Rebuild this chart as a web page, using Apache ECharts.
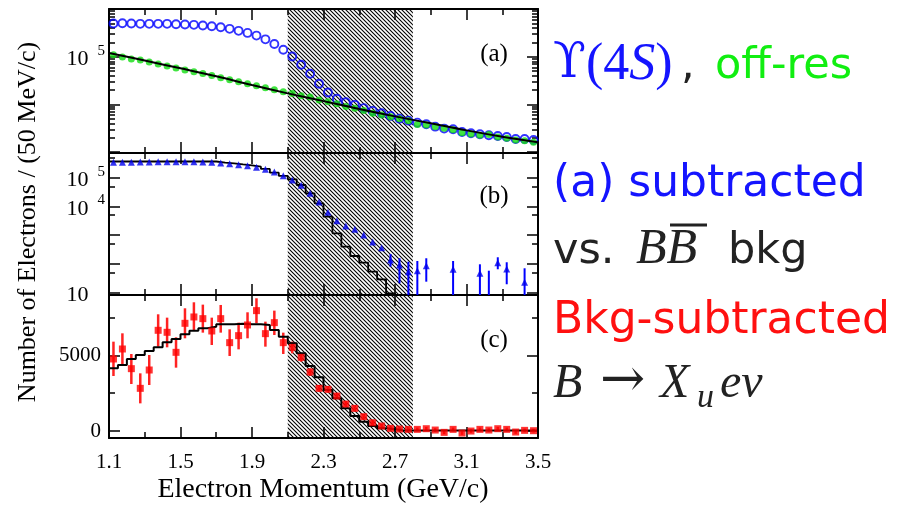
<!DOCTYPE html>
<html><head><meta charset="utf-8">
<script src="https://cdn.jsdelivr.net/npm/echarts@6/dist/echarts.min.js"></script>
<style>html,body{margin:0;padding:0;background:#fff}#c{width:905px;height:507px}</style>
</head><body><div id="c"></div>
<script>
// ---------------- data ----------------
const momentum = [1.125,1.175,1.225,1.275,1.325,1.375,1.425,1.475,1.525,1.575,
  1.625,1.675,1.725,1.775,1.825,1.875,1.925,1.975,2.025,2.075,
  2.125,2.175,2.225,2.275,2.325,2.375,2.425,2.475,2.525,2.575,
  2.625,2.675,2.725,2.775,2.825,2.875,2.925,2.975,3.025,3.075,
  3.125,3.175,3.225,3.275,3.325,3.375,3.425,3.475];
const binWidth = 0.05;

// panel (a): Upsilon(4S) and off-resonance
const upsilon4S = [4.95e5,5.02e5,4.95e5,4.88e5,4.88e5,4.88e5,4.88e5,4.79e5,4.72e5,4.65e5,
  4.50e5,4.35e5,4.14e5,3.83e5,3.48e5,3.15e5,2.77e5,2.31e5,1.85e5,1.40e5,
  1.01e5,6.79e4,4.39e4,2.70e4,1.77e4,1.31e4,1.11e4,9.76e3,8.32e3,7.30e3,
  6.53e3,5.73e3,5.02e3,4.56e3,4.14e3,3.83e3,3.41e3,3.10e3,3.01e3,2.64e3,
  2.48e3,2.36e3,2.25e3,2.17e3,2.07e3,1.88e3,1.88e3,1.79e3];
const offResonance = [1.10e5,9.86e4,8.95e4,8.53e4,7.73e4,7.02e4,6.37e4,5.78e4,5.25e4,4.83e4,
  4.45e4,4.04e4,3.61e4,3.28e4,2.98e4,2.70e4,2.45e4,2.22e4,2.02e4,1.83e4,
  1.69e4,1.51e4,1.42e4,1.24e4,1.13e4,1.03e4,9.0e3,8.32e3,7.40e3,6.53e3,
  6.01e3,5.53e3,5.02e3,4.56e3,3.79e3,3.70e3,3.41e3,3.16e3,2.95e3,2.55e3,
  2.39e3,2.25e3,2.33e3,2.07e3,1.94e3,1.79e3,1.73e3,1.60e3];
const offResFitX = [1.1,1.3,1.5,1.7,1.9,2.1,2.3,2.5,2.7,2.9,3.1,3.3,3.5];
const offResFitY = [1.20e5,8.3e4,5.7e4,3.87e4,2.54e4,1.70e4,1.17e4,8.0e3,5.6e3,4.0e3,2.85e3,2.1e3,1.6e3];

// panel (b): continuum-subtracted vs BBbar background
const subtracted = [3.47e5,3.47e5,3.47e5,3.55e5,3.55e5,3.64e5,3.64e5,3.64e5,3.64e5,3.64e5,
  3.55e5,3.47e5,3.28e5,3.10e5,2.86e5,2.64e5,2.32e5,1.98e5,1.59e5,1.18e5,
  8.38e4,5.48e4,2.88e4,1.44e4,6.28e3,3.20e3,2.09e3,1.61e3,1.02e3,580,
  367,137,91.6,53.5,57.9,86.5,null,null,64.9,null,
  null,47.0,5,110,66.4,null,22.9,null];
const subErrHi = [null,null,null,null,null,null,null,null,null,null,
  null,null,null,null,null,null,null,null,null,null,
  null,null,null,null,null,null,null,null,null,null,
  null,221,157,119,126,157,null,null,126,null,
  null,96.8,57.9,170,114,null,70.3,null];
const subErrLo = [null,null,null,null,null,null,null,null,null,null,
  null,null,null,null,null,null,null,null,null,null,
  null,null,null,null,null,null,null,null,null,null,
  null,80,21.1,1,1,24,null,null,1,null,
  null,1,1,64.9,19.5,null,1,null];
const bbBackground = [3.70e5,3.70e5,3.70e5,3.70e5,3.70e5,3.70e5,3.70e5,3.70e5,3.70e5,3.70e5,
  3.70e5,3.70e5,3.36e5,3.20e5,2.95e5,2.73e5,2.44e5,2.03e5,1.51e5,1.16e5,
  8.87e4,5.61e4,2.88e4,1.29e4,4.41e3,1.16e3,397,188,110,53.5,
  29.0,9.46,1,1,1,1,1,1,1,1,
  1,1,1,1,1,1,1,1];

// panel (c): background-subtracted B -> Xu e nu
const signal = [4756,5416,4117,2818,4029,6649,6517,5196,7111,7530,
  7419,6605,7419,5834,6297,7001,7948,6429,7155,5834,
  5526,4866,3897,2818,2752,2312,1783,1497,947,551,
  330,176,132,110,110,154,66,-88,110,-132,
  0,110,66,154,110,-66,44,22];
const sigErrHi = [5900,6451,5086,3809,5020,7706,7485,6187,8102,8499,
  8344,7485,8322,6715,7155,7838,8763,7221,7948,6495,
  5900,5130,4138,3038,2952,2512,1983,1697,1127,711,
  470,296,252,230,230,274,186,32,230,-12,
  120,230,186,274,230,54,164,142];
const sigErrLo = [3633,4359,3104,1827,3038,5570,5526,4183,6121,6605,
  6495,5680,6495,4954,5394,6121,7111,5570,6341,5086,
  5130,4580,3633,2598,2552,2112,1583,1297,767,391,
  190,56,12,-10,-10,34,-54,-208,-10,-252,
  -120,-10,-54,34,-10,-186,-76,-98];
const xuModel = [4139,4359,4756,5020,5284,5526,5856,6077,6385,6627,
  6781,6891,7045,7045,7089,7045,7045,7001,6671,6231,
  5790,5130,4293,3545,2708,2158,1497,991,616,330,
  176,110,40,40,40,40,40,40,40,40,
  40,40,40,40,40,40,40,40];

// excluded (hatched) momentum region
const hatchRange = [2.1, 2.8];

// axes
const xRange = [1.1, 3.5];
const xMajorTicks = [1.1,1.5,1.9,2.3,2.7,3.1,3.5];
const xMinorTicks = [1.3,1.7,2.1,2.5,2.9,3.3];
const yRangeA = [955, 1.0e6];
const yMajorA = [1e3,1e4,1e5,1e6];
const yMinorA = [2e3,3e3,4e3,5e3,6e3,7e3,8e3,9e3,2e4,3e4,4e4,5e4,6e4,7e4,8e4,9e4,2e5,3e5,4e5,5e5,6e5,7e5,8e5,9e5];
const yLabelsA = [1e5];
const yRangeB = [8.24, 7.31e5];
const yMajorB = [10,100,1000,1e4,1e5];
const yMinorB = [50,500,5000,5e4,5e5];
const yLabelsB = [10,1e4,1e5];
const yRangeC = [-460, 8980];
const yMajorC = [0,5000];
const yMinorC = [2500,7500];
const yLabelsC = [0,5000];

// ---------------- chart ----------------
const SERIF = '"Liberation Serif", "Times New Roman", serif';
const SANS = '"DejaVu Sans", sans-serif';
const BLUE = '#0000ff', GREEN = '#11dd11', RED = '#ff0000';

function hatchCanvas(){
  const c = document.createElement('canvas'); c.width = 4; c.height = 4;
  const g = c.getContext('2d'); g.strokeStyle = '#000'; g.lineWidth = 1.1;
  [-4,0,4].forEach(o => { g.beginPath(); g.moveTo(o-1,-1); g.lineTo(o+5,5); g.stroke(); });
  return c;
}
const hatch = hatchCanvas();

const grids = [
  {left:109, top:9, width:429, height:144},
  {left:109, top:153, width:429, height:142},
  {left:109, top:295, width:429, height:143}
];

const axLine = {show:true, onZero:false, lineStyle:{color:'#000', width:2}};
const noLine = {show:false, onZero:false};
function tick(vals, len){ return {show:true, inside:true, length:len, customValues:vals, lineStyle:{color:'#000', width:1.5}}; }

const xAxis = [];
grids.forEach((g, gi) => {
  const base = {gridIndex:gi, type:'value', min:xRange[0], max:xRange[1], splitLine:{show:false}, axisLabel:{show:false}};
  xAxis.push(Object.assign({}, base, {position:'bottom', axisLine:axLine, axisTick:tick(xMajorTicks, 11),
    axisLabel: gi === 2 ? {show:true, customValues:xMajorTicks, formatter:v => v.toFixed(1), margin:14,
      color:'#000', fontFamily:SERIF, fontSize:21} : {show:false}}));
  xAxis.push(Object.assign({}, base, {position:'bottom', axisLine:noLine, axisTick:tick(xMinorTicks, 6)}));
  xAxis.push(Object.assign({}, base, {position:'top', axisLine:axLine, axisTick:tick(xMajorTicks, 11)}));
  xAxis.push(Object.assign({}, base, {position:'top', axisLine:noLine, axisTick:tick(xMinorTicks, 6)}));
});

function powLabel(v){
  const e = Math.round(Math.log10(v));
  return e === 1 ? '{b|10}{h|5}' : '{b|10}{s|' + e + '}';
}
const powRich = {
  b:{fontFamily:SERIF, fontSize:22, color:'#000', lineHeight:27, verticalAlign:'bottom'},
  s:{fontFamily:SERIF, fontSize:15, color:'#000', lineHeight:27, verticalAlign:'top', padding:[0,0,0,9]},
  h:{fontFamily:SERIF, fontSize:15, color:'rgba(0,0,0,0)', lineHeight:27, verticalAlign:'top', padding:[0,0,0,9]}
};
const yDefs = [
  {type:'log', range:yRangeA, major:yMajorA, minor:yMinorA, labels:yLabelsA},
  {type:'log', range:yRangeB, major:yMajorB, minor:yMinorB, labels:yLabelsB},
  {type:'value', range:yRangeC, major:yMajorC, minor:yMinorC, labels:yLabelsC}
];
const yAxis = [];
yDefs.forEach((d, gi) => {
  const base = {gridIndex:gi, type:d.type, min:d.range[0], max:d.range[1], splitLine:{show:false}, axisLabel:{show:false}};
  if (d.type === 'log') base.logBase = 10;
  const lab = d.type === 'log'
    ? {show:true, customValues:d.labels, formatter:powLabel, rich:powRich, margin:4}
    : {show:true, customValues:d.labels, formatter:v => String(v), margin:8, color:'#000', fontFamily:SERIF, fontSize:21};
  yAxis.push(Object.assign({}, base, {position:'left', axisLine:axLine, axisTick:tick(d.major, 11), axisLabel:lab}));
  yAxis.push(Object.assign({}, base, {position:'left', axisLine:noLine, axisTick:tick(d.minor, 6)}));
  yAxis.push(Object.assign({}, base, {position:'right', axisLine:axLine, axisTick:tick(d.major, 11)}));
  yAxis.push(Object.assign({}, base, {position:'right', axisLine:noLine, axisTick:tick(d.minor, 6)}));
});

function pts(vals){ return momentum.map((x, i) => [x, vals[i]]).filter(p => p[1] != null); }
function hist(vals){
  const d = momentum.map((x, i) => [x - binWidth/2, vals[i]]);
  d.push([momentum[momentum.length-1] + binWidth/2, vals[vals.length-1]]);
  return d;
}
function errBars(ai, lo, hi, color, width){
  const data = [];
  momentum.forEach((x, i) => { if (lo[i] != null && hi[i] != null) data.push([x, lo[i], hi[i]]); });
  return {type:'custom', xAxisIndex:ai*4, yAxisIndex:ai*4, z:3, silent:true, data,
    encode:{x:0, y:[1,2]},
    renderItem:(params, api) => {
      const cs = params.coordSys;
      const x = api.value(0);
      const a = api.coord([x, api.value(2)]);
      const b = api.coord([x, api.value(1)]);
      const top = Math.max(cs.y, Math.min(a[1], b[1]));
      const bot = Math.min(cs.y + cs.height, Math.max(a[1], b[1]));
      if (bot <= top) return null;
      return {type:'line', shape:{x1:a[0], y1:top, x2:a[0], y2:bot}, style:{stroke:color, lineWidth:width}};
    }};
}
function hatchSeries(gi){
  return {type:'line', xAxisIndex:gi*4, yAxisIndex:gi*4, data:[], silent:true, z:1,
    markArea:{silent:true, z:1, itemStyle:{color:{image:hatch, repeat:'repeat'}, borderWidth:0},
      data:[[{xAxis:hatchRange[0]}, {xAxis:hatchRange[1]}]]}};
}

const series = [
  hatchSeries(0), hatchSeries(1), hatchSeries(2),
  // panel a
  {type:'scatter', xAxisIndex:0, yAxisIndex:0, z:3, data:pts(upsilon4S), symbol:'circle', symbolSize:8,
    itemStyle:{color:'rgba(0,0,0,0)', borderColor:BLUE, borderWidth:1.9}},
  {type:'scatter', xAxisIndex:0, yAxisIndex:0, z:4, data:pts(offResonance), symbol:'circle', symbolSize:7,
    itemStyle:{color:GREEN}},
  {type:'line', xAxisIndex:0, yAxisIndex:0, z:5, data:offResFitX.map((x,i)=>[x, offResFitY[i]]), smooth:0.4,
    symbol:'none', lineStyle:{color:'#000', width:2}},
  // panel b
  {type:'line', xAxisIndex:4, yAxisIndex:4, z:3, data:hist(bbBackground), step:'end', symbol:'none',
    lineStyle:{color:'#000', width:1.8}},
  errBars(1, subErrLo, subErrHi, BLUE, 2),
  {type:'scatter', xAxisIndex:4, yAxisIndex:4, z:5, data:pts(subtracted), symbol:'triangle', symbolSize:7,
    itemStyle:{color:'#0000ee'}},
  // panel c
  {type:'line', xAxisIndex:8, yAxisIndex:8, z:3, data:hist(xuModel), step:'end', symbol:'none',
    lineStyle:{color:'#000', width:2}},
  errBars(2, sigErrLo, sigErrHi, '#ff2222', 2.5),
  {type:'scatter', xAxisIndex:8, yAxisIndex:8, z:5, data:pts(signal), symbol:'rect', symbolSize:7,
    itemStyle:{color:RED}}
];

function txt(x, y, text, font, fill, extra){
  return Object.assign({type:'text', x, y, silent:true,
    style:Object.assign({text, font, fill, align:'left', verticalAlign:'middle'}, extra || {})});
}
const graphic = [
  // axis titles
  {type:'text', x:28, y:222, rotation:Math.PI/2, silent:true,
    style:{text:'Number of Electrons / (50 MeV/c)', font:'26px ' + SERIF, fill:'#000', align:'center', verticalAlign:'middle'}},
  {type:'text', x:323, y:490, silent:true,
    style:{text:'Electron Momentum (GeV/c)', font:'28px ' + SERIF, fill:'#000', align:'center', verticalAlign:'middle'}},
  // panel tags
  txt(494, 54, '(a)', '25px ' + SERIF, '#000', {align:'center'}),
  txt(494, 196, '(b)', '25px ' + SERIF, '#000', {align:'center'}),
  txt(494, 340, '(c)', '25px ' + SERIF, '#000', {align:'center'}),
  // right-hand annotations
  {type:'text', x:553, y:65, silent:true, style:{text:'{y|\u03D2}{u|(4}{i|S}{u|)}', verticalAlign:'middle', align:'left',
    rich:{y:{font:'48px "DejaVu Serif"', fill:'#1414ff'}, u:{font:'52px ' + SERIF, fill:'#1414ff'}, i:{font:'italic 52px ' + SERIF, fill:'#1414ff'}}}},
  txt(681, 67, ',', '43px ' + SANS, '#222'),
  txt(715, 67, 'off-res', '43px ' + SANS, '#11ee11'),
  txt(553, 185, '(a) subtracted', '44px ' + SANS, '#1414ff'),
  txt(553, 252, 'vs.', '43px ' + SANS, '#222'),
  txt(636, 250, 'BB', 'italic 50px ' + SERIF, '#222'),
  {type:'line', silent:true, shape:{x1:670, y1:225, x2:707, y2:225}, style:{stroke:'#222', lineWidth:3}},
  txt(728, 252, 'bkg', '43px ' + SANS, '#222'),
  txt(553, 322, 'Bkg-subtracted', '44px ' + SANS, '#ff1010'),
  txt(553, 384, 'B', 'italic 48px ' + SERIF, '#222'),
  txt(600, 382, '\u2192', '54px "DejaVu Serif"', '#222'),
  txt(660, 384, 'X', 'italic 48px ' + SERIF, '#222'),
  txt(697, 398, 'u', 'italic 34px ' + SERIF, '#222'),
  txt(720, 384, 'e\u03BD', 'italic 48px ' + SERIF, '#222')
];

const chart = echarts.init(document.getElementById('c'), null, {renderer:'canvas'});
chart.setOption({
  animation:false,
  backgroundColor:'#fff',
  textStyle:{fontFamily:SERIF},
  grid:grids.map(g => Object.assign({containLabel:false, outerBoundsMode:'none'}, g)),
  xAxis, yAxis, series, graphic
});
</script></body></html>
